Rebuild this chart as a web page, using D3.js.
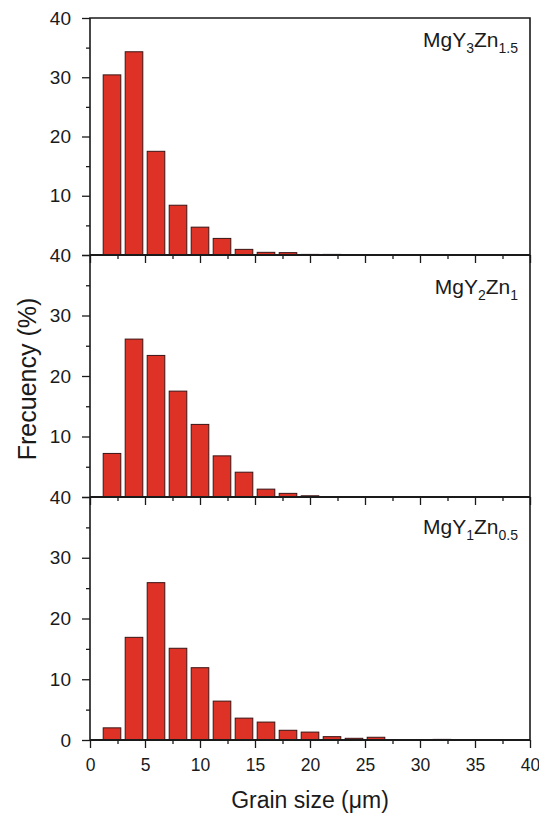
<!DOCTYPE html>
<html>
<head>
<meta charset="utf-8">
<script src="https://cdn.jsdelivr.net/npm/d3@7"></script>
<style>
  html, body { margin: 0; padding: 0; background: #fff; }
  svg { display: block; font-family: "Liberation Sans", Arial, sans-serif; }
</style>
</head>
<body>
<svg id="chart" width="539" height="813"></svg>
<script>
// Bin centres (µm); each bin is 2 µm wide
const grainSizes = [2, 4, 6, 8, 10, 12, 14, 16, 18, 20, 22, 24, 26, 28, 30, 32];

// Frequency (%) per bin for each alloy
const freqMgY3Zn15 = [30.4, 34.3, 17.5, 8.4, 4.7, 2.8, 0.95, 0.45, 0.4, 0.1, 0.1, 0, 0, 0, 0, 0];
const freqMgY2Zn1  = [7.2, 26.1, 23.4, 17.5, 12.0, 6.8, 4.1, 1.3, 0.6, 0.2, 0.05, 0, 0.05, 0, 0, 0];
const freqMgY1Zn05 = [2.0, 16.9, 25.9, 15.1, 11.9, 6.4, 3.6, 2.95, 1.6, 1.3, 0.55, 0.28, 0.45, 0, 0, 0.1];

// Panel labels: [base, subscript, base, subscript]
const labelMgY3Zn15 = ["MgY", "3", "Zn", "1.5"];
const labelMgY2Zn1  = ["MgY", "2", "Zn", "1"];
const labelMgY1Zn05 = ["MgY", "1", "Zn", "0.5"];

const xTicks = [0, 5, 10, 15, 20, 25, 30, 35, 40];
const yTicks = [0, 10, 20, 30, 40];

const panels = [
  { values: freqMgY3Zn15, label: labelMgY3Zn15, top: 18,  bottom: 255, showZero: false },
  { values: freqMgY2Zn1,  label: labelMgY2Zn1,  top: 255, bottom: 497, showZero: false },
  { values: freqMgY1Zn05, label: labelMgY1Zn05, top: 497, bottom: 740, showZero: true }
];
const labelBaselines = [47, 294, 534];

const svg = d3.select("#chart");
const left = 90, right = 530;
const ink = "#1a1a1a";
const barFill = "#df3226";
const barStroke = "#3a1414";

const x = d3.scaleLinear().domain([0, 40]).range([left, right]);
const binHalf = 0.8;

panels.forEach((p, i) => {
  const y = d3.scaleLinear().domain([0, 40]).range([p.bottom, p.top]);
  const g = svg.append("g");

  // bars
  const rows = grainSizes.map((s, k) => ({ s, v: p.values[k] })).filter(d => d.v > 0);
  g.selectAll("rect.bar").data(rows).enter().append("rect")
    .attr("class", "bar")
    .attr("x", d => x(d.s - binHalf))
    .attr("width", d => x(d.s + binHalf) - x(d.s - binHalf))
    .attr("y", d => y(d.v))
    .attr("height", d => y(0) - y(d.v))
    .attr("fill", barFill)
    .attr("stroke", barStroke)
    .attr("stroke-width", 1);

  // y axis with major and minor ticks
  const yAxis = d3.axisLeft(y).tickValues(yTicks).tickSize(8).tickPadding(11)
    .tickFormat(v => (v === 0 && !p.showZero) ? "" : d3.format("d")(v));
  const ya = g.append("g").attr("transform", `translate(${left},0)`).call(yAxis);
  ya.select(".domain").remove();
  ya.selectAll("line").attr("stroke", ink).attr("stroke-width", 1.3);
  ya.selectAll("text").attr("font-size", 19).attr("fill", ink);
  const yMinor = d3.axisLeft(y).tickValues([5, 15, 25, 35]).tickSize(4).tickFormat("");
  const ym = g.append("g").attr("transform", `translate(${left},0)`).call(yMinor);
  ym.select(".domain").remove();
  ym.selectAll("line").attr("stroke", ink).attr("stroke-width", 1.3);

  // x axis ticks on each panel's bottom edge
  const xAxis = d3.axisBottom(x).tickValues(xTicks).tickSize(8).tickPadding(11)
    .tickFormat(i === panels.length - 1 ? d3.format("d") : "");
  const xa = g.append("g").attr("transform", `translate(0,${p.bottom})`).call(xAxis);
  xa.select(".domain").remove();
  xa.selectAll("line").attr("stroke", ink).attr("stroke-width", 1.3);
  xa.selectAll("text").attr("font-size", 17.5).attr("fill", ink);
  const xMinor = d3.axisBottom(x).tickValues(d3.range(2.5, 40, 5)).tickSize(4).tickFormat("");
  const xm = g.append("g").attr("transform", `translate(0,${p.bottom})`).call(xMinor);
  xm.select(".domain").remove();
  xm.selectAll("line").attr("stroke", ink).attr("stroke-width", 1.3);

  // panel bottom edge
  g.append("line").attr("x1", left).attr("x2", right)
    .attr("y1", p.bottom).attr("y2", p.bottom)
    .attr("stroke", ink).attr("stroke-width", 1.8);

  // alloy label with subscripts
  const t = g.append("text")
    .attr("x", 518).attr("y", labelBaselines[i])
    .attr("text-anchor", "end").attr("fill", ink).attr("font-size", 21);
  t.append("tspan").text(p.label[0]);
  t.append("tspan").attr("dy", 6).attr("font-size", 14).text(p.label[1]);
  t.append("tspan").attr("dy", -6).text(p.label[2]);
  t.append("tspan").attr("dy", 6).attr("font-size", 14).text(p.label[3]);
});

// outer frame: left, top, right
svg.append("path")
  .attr("d", `M${left},${panels[2].bottom}V${panels[0].top}H${right}V${panels[2].bottom}`)
  .attr("fill", "none").attr("stroke", ink).attr("stroke-width", 1.6);

// axis titles
svg.append("text")
  .attr("x", (left + right) / 2).attr("y", 808)
  .attr("text-anchor", "middle").attr("font-size", 23).attr("fill", ink)
  .text("Grain size (\u03bcm)");

svg.append("text")
  .attr("transform", `translate(36,${(panels[0].top + panels[2].bottom) / 2}) rotate(-90)`)
  .attr("text-anchor", "middle").attr("font-size", 25).attr("fill", ink)
  .text("Frecuency (%)");
</script>
</body>
</html>
